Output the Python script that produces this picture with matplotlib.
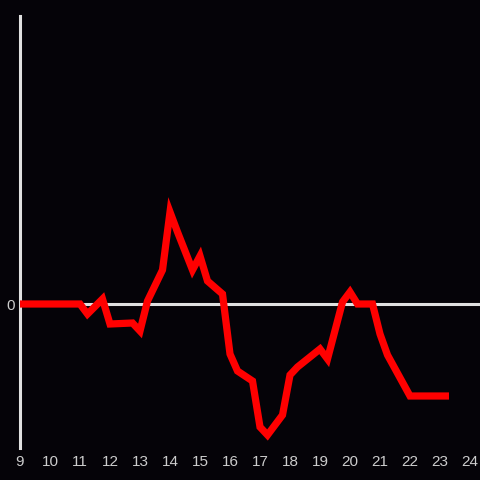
import matplotlib
matplotlib.use("Agg")
import matplotlib.pyplot as plt

hours = [9.0, 11.0, 11.25, 11.75, 12.0, 12.75, 13.0, 13.25, 13.75, 14.0, 14.25,
         14.75, 15.0, 15.25, 15.75, 16.0, 16.25, 16.75, 17.0, 17.25, 17.75, 18.0,
         18.25, 19.0, 19.25, 19.75, 20.0, 20.25, 20.75, 21.0, 21.25, 22.0, 23.3]
values = [0, 0, -10, 5, -20, -19, -27, 3, 34, 92, 72, 34, 48, 23, 10, -50,
          -67, -77, -123, -131, -111, -71, -63, -45, -55, 2, 12, 0, 0, -30,
          -51, -92, -92]
xticks = list(range(9, 25))

bg = "#050308"
fig = plt.figure(figsize=(4.8, 4.8), dpi=100, facecolor=bg)
ax = fig.add_axes([20/480, 32/480, 460/480, 432/480], facecolor=bg)
ax.set_xlim(9, 24.333)
ax.set_ylim(-144, 288)

ax.axhline(0, color="#e0e0e0", lw=2.2, zorder=1)
ax.plot(hours, values, color="#ff0000", lw=5.2, solid_joinstyle="miter",
        solid_capstyle="butt", zorder=3)

for s in ["top", "right", "bottom"]:
    ax.spines[s].set_visible(False)
ax.spines["left"].set_color("#e0e0e0")
ax.spines["left"].set_linewidth(2.2)

ax.set_xticks(xticks)
ax.set_xticklabels([str(t) for t in xticks], fontsize=11, color="#cccccc",
                   family="Liberation Sans")
ax.set_yticks([0])
ax.set_yticklabels(["0"], fontsize=11, color="#cccccc", family="Liberation Sans")
ax.tick_params(axis="both", length=0, pad=5)
ax.tick_params(axis="y", pad=4)

fig.savefig("out.png", dpi=100, facecolor=bg)
